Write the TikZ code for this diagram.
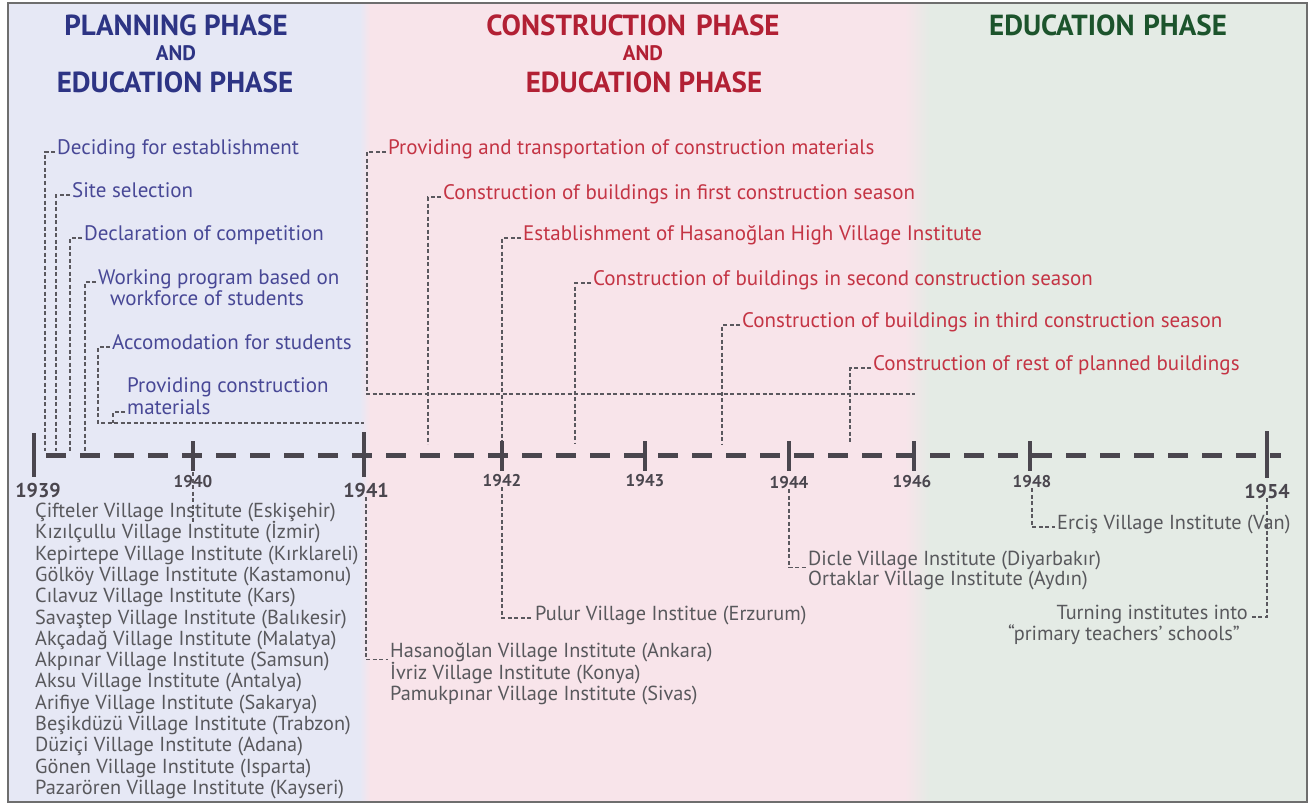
\documentclass[tikz,border=0pt]{standalone}
\usepackage{fontspec}
\setmainfont{PT Sans}
\usetikzlibrary{calc}

\definecolor{bgblue}{RGB}{230,232,245}
\definecolor{bgpink}{RGB}{248,228,234}
\definecolor{bggreen}{RGB}{228,235,229}
\definecolor{ttlblue}{RGB}{45,52,132}
\definecolor{ttlred}{RGB}{178,32,52}
\definecolor{ttlgreen}{RGB}{28,84,44}
\definecolor{txtblue}{RGB}{72,72,150}
\definecolor{txtred}{RGB}{196,52,68}
\definecolor{txtgray}{RGB}{88,88,92}
\definecolor{axisgray}{RGB}{74,70,78}
\definecolor{linegray}{RGB}{90,88,94}
\definecolor{framegray}{RGB}{110,110,110}

\newcommand\ttlfnt{\fontsize{29}{33}\bfseries\selectfont}
\newcommand\andfnt{\fontsize{21}{24}\bfseries\selectfont}
\newcommand\itemfnt{\fontsize{21}{24}\selectfont}
\newcommand\lowfnt{\fontsize{20.3}{21.5}\selectfont}
\newcommand\bigyrfnt{\fontsize{20}{23}\bfseries\selectfont}
\newcommand\yrfnt{\fontsize{17}{19}\bfseries\selectfont}

\tikzset{
  ttl/.style={font=\ttlfnt, inner sep=0pt},
  andw/.style={font=\andfnt, inner sep=0pt},
  item/.style={font=\itemfnt, anchor=west, inner xsep=2pt, inner ysep=0pt,
    text height=0.72em, text depth=0.22em},
  low/.style={font=\lowfnt, text=txtgray, anchor=west, inner xsep=2pt, inner ysep=0pt,
    text height=0.72em, text depth=0.22em},
  conn/.style={draw=linegray, line width=1.1pt, dash pattern=on 4pt off 2.5pt},
  axisline/.style={draw=axisgray, line width=5pt, dash pattern=on 20pt off 14pt, dash phase=-12pt},
  tick/.style={draw=axisgray, line width=3.6pt},
  bigyr/.style={font=\bigyrfnt, text=axisgray, inner sep=0pt},
  yr/.style={font=\yrfnt, text=axisgray, inner sep=0pt},
}

\begin{document}
\begin{tikzpicture}[x=1pt,y=-1pt]
\useasboundingbox (0,0) rectangle (1313,805);
\fill[white] (0,0) rectangle (1313,805);

% phase panels
\fill[bgblue] (8,3) rectangle (360,802);
\shade[left color=bgblue, right color=bgpink] (360,3) rectangle (370,802);
\fill[bgpink] (370,3) rectangle (905,802);
\shade[left color=bgpink, right color=bggreen] (905,3) rectangle (930,802);
\fill[bggreen] (930,3) rectangle (1307,802);
\draw[framegray, line width=1.3pt] (8,3) rectangle (1307,802);

% phase titles
\node[ttl, text=ttlblue] (pA) at (176,25) {PLANNING PHASE};
\node[andw, text=ttlblue] (pB) at (176,53) {AND};
\node[ttl, text=ttlblue] (pC) at (175,82) {EDUCATION PHASE};
\node[ttl, text=ttlred] (cA) at (633,25) {CONSTRUCTION\hspace{0.35em}PHASE};
\node[andw, text=ttlred] (cB) at (643,53) {AND};
\node[ttl, text=ttlred] (cC) at (644,82) {EDUCATION PHASE};
\node[ttl, text=ttlgreen] (eA) at (1108,25) {EDUCATION\hspace{0.3em}PHASE};

% planning items
\node[item, text=txtblue] (dec) at (55,152) {Deciding for establishment};
\node[item, text=txtblue] (site) at (70,195) {Site selection};
\node[item, text=txtblue] (decl) at (82,238) {Declaration of competition};
\node[item, text=txtblue] (work) at (96,282) {Working program based on};
\node[item, text=txtblue] (workb) at (108,303) {workforce of students};
\node[item, text=txtblue] (acc) at (110,347) {Accomodation for students};
\node[item, text=txtblue] (prov) at (125,390) {Providing construction};
\node[item, text=txtblue] (provb) at (125,412) {materials};

\coordinate (decE) at (45,451);
\coordinate (siteE) at (56,451);
\coordinate (declE) at (70,451);
\coordinate (workE) at (85,451);
\coordinate (accC) at (98,423);
\coordinate (accE) at (364,423);
\coordinate (provE) at (113,423);

\draw[conn] (dec.west) -| (decE);
\draw[conn] (site.west) -| (siteE);
\draw[conn] (decl.west) -| (declE);
\draw[conn] (work.west) -| (workE);
\draw[conn] (acc.west) -| (accC) -- (accE);
\draw[conn] (provb.west) -| (provE);

% construction items
\node[item, text=txtred] (trans) at (386,152) {Providing and transportation of construction materials};
\node[item, text=txtred] (first) at (441,197) {Construction of buildings in first construction season};
\node[item, text=txtred] (est) at (521,238) {Establishment of Hasanoğlan High Village Institute};
\node[item, text=txtred] (second) at (591,283) {Construction of buildings in second construction season};
\node[item, text=txtred] (third) at (740,325) {Construction of buildings in third construction season};
\node[item, text=txtred] (rest) at (871,368) {Construction of rest of planned buildings};

\coordinate (transC) at (367,394);
\coordinate (transE) at (915,394);
\coordinate (firstE) at (428,444);
\coordinate (estE) at (502,444);
\coordinate (secondE) at (575,444);
\coordinate (thirdE) at (722,444);
\coordinate (restE) at (850,444);

\draw[conn] (trans.west) -| (transC) -- (transE);
\draw[conn] (first.west) -| (firstE);
\draw[conn] (est.west) -| (estE);
\draw[conn] (second.west) -| (secondE);
\draw[conn] (third.west) -| (thirdE);
\draw[conn] (rest.west) -| (restE);

% time axis
\coordinate (axA) at (34,455);
\coordinate (axB) at (1281,455);
\draw[axisline] (axA) -- (axB);
\draw[tick] (34,433) -- (34,477);
\draw[tick] (193,441) -- (193,471);
\draw[tick] (364,432) -- (364,477);
\draw[tick] (502,441) -- (502,471);
\draw[tick] (645,441) -- (645,471);
\draw[tick] (789,441) -- (789,471);
\draw[tick] (914,441) -- (914,471);
\draw[tick] (1030,441) -- (1030,471);
\draw[tick] (1267,431) -- (1267,478);

% years
\node[bigyr] (y1939) at (38,490) {1939};
\node[yr] (y1940) at (193,482) {1940};
\node[bigyr] (y1941) at (366,490) {1941};
\node[yr] (y1942) at (502,481) {1942};
\node[yr] (y1943) at (645,481) {1943};
\node[yr] (y1944) at (789,483) {1944};
\node[yr] (y1946) at (912,482) {1946};
\node[yr] (y1948) at (1032,482) {1948};
\node[bigyr] (y1954) at (1267,491) {1954};

% institutes opened
\coordinate (m40a) at (193,472);
\coordinate (m40b) at (193,522);
\draw[conn] (m40a) -- (m40b);

\foreach \t [count=\i] in {%
  Çifteler Village Institute (Eskişehir),
  Kızılçullu Village Institute (İzmir),
  Kepirtepe Village Institute (Kırklareli),
  Gölköy Village Institute (Kastamonu),
  Cılavuz Village Institute (Kars),
  Savaştep Village Institute (Balıkesir),
  Akçadağ Village Institute (Malatya),
  Akpınar Village Institute (Samsun),
  Aksu Village Institute (Antalya),
  Arifiye Village Institute (Sakarya),
  Beşikdüzü Village Institute (Trabzon),
  Düziçi Village Institute (Adana),
  Gönen Village Institute (Isparta),
  Pazarören Village Institute (Kayseri)}
  \node[low] (inst\i) at (33,{515+21.3*(\i-1)}) {\t};

\node[low] (has) at (388,655) {Hasanoğlan Village Institute (Ankara)};
\node[low] (ivr) at (388,677) {İvriz Village Institute (Konya)};
\node[low] (pam) at (388,698) {Pamukpınar Village Institute (Sivas)};
\draw[conn] (y1941.south) |- (has.south west);

\node[low] (pul) at (533,618) {Pulur Village Institue (Erzurum)};
\draw[conn] (y1942.south) |- (pul.west);

\node[low] (dic) at (806,563) {Dicle Village Institute (Diyarbakır)};
\node[low] (ort) at (806,583) {Ortaklar Village Institute (Aydın)};
\draw[conn] (y1944.south) |- (dic.south west);

\node[low] (erc) at (1055,527) {Erciş Village Institute (Van)};
\draw[conn] (y1948.south) |- (erc.west);

\node[low, anchor=east] (tur) at (1250,617) {Turning institutes into};
\node[low, anchor=east] (turb) at (1242,638) {“primary teachers’ schools”};
\draw[conn] (y1954.south) |- (tur.east);
\end{tikzpicture}
\end{document}
